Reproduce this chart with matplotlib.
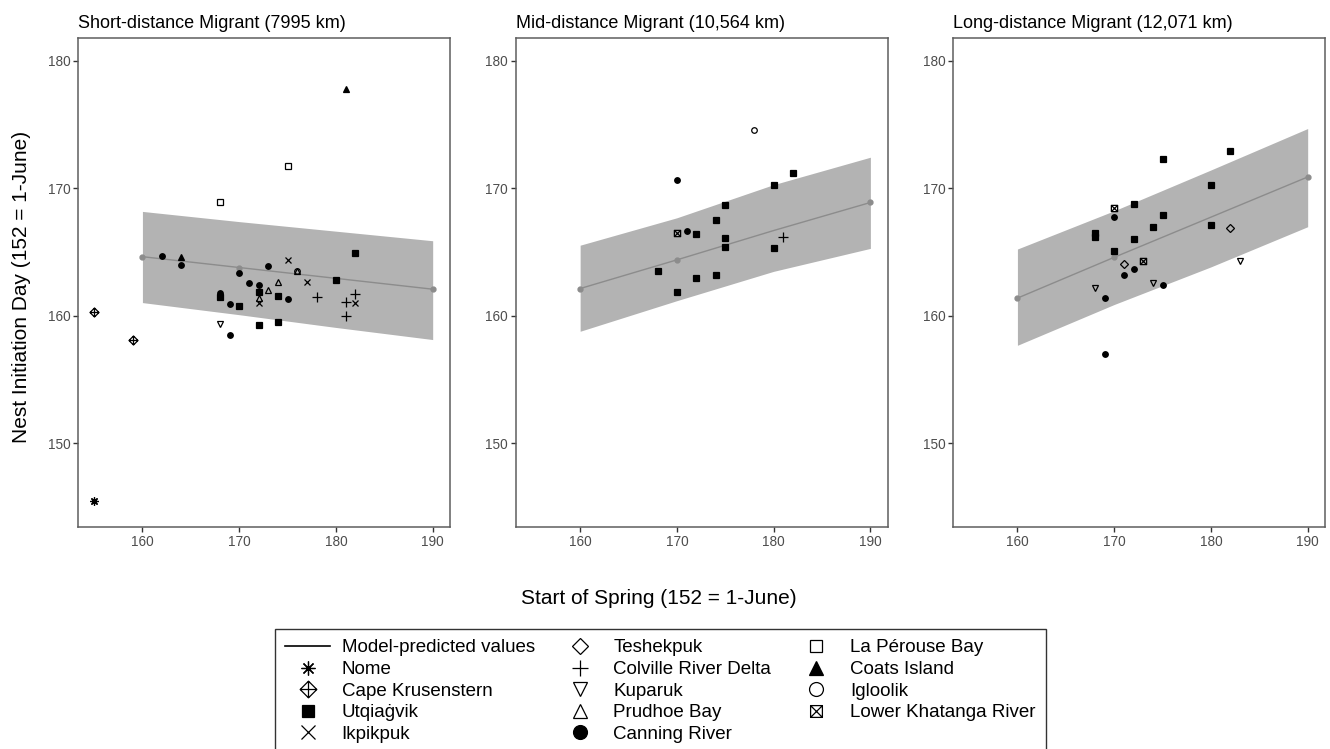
import matplotlib
matplotlib.use("Agg")
import matplotlib.pyplot as plt
from matplotlib.path import Path
from matplotlib.lines import Line2D

plt.rcParams["font.family"] = ["Liberation Sans", "DejaVu Sans"]

# ---- data ----
pred_x = [160, 170, 180, 190]

short_fit = [164.65, 163.8, 162.95, 162.1]
short_lo = [161.05, 160.1, 159.1, 158.15]
short_hi = [168.2, 167.4, 166.65, 165.9]

mid_fit = [162.15, 164.4, 166.7, 168.9]
mid_lo = [158.8, 161.2, 163.5, 165.3]
mid_hi = [165.55, 167.7, 170.3, 172.45]

long_fit = [161.4, 164.6, 167.75, 170.9]
long_lo = [157.7, 160.9, 163.85, 167.0]
long_hi = [165.25, 168.25, 171.45, 174.7]

short_site = ["Nome", "Cape Krusenstern", "Cape Krusenstern",
              "Canning River", "Canning River", "Canning River", "Canning River",
              "Canning River", "Canning River", "Canning River", "Canning River",
              "Canning River", "Canning River",
              "Utqiaġvik", "Utqiaġvik", "Utqiaġvik", "Utqiaġvik",
              "Utqiaġvik", "Utqiaġvik", "Utqiaġvik", "Utqiaġvik",
              "Coats Island", "Coats Island", "La Pérouse Bay", "La Pérouse Bay",
              "Prudhoe Bay", "Prudhoe Bay", "Prudhoe Bay", "Prudhoe Bay",
              "Ikpikpuk", "Ikpikpuk", "Ikpikpuk", "Ikpikpuk",
              "Colville River Delta", "Colville River Delta",
              "Colville River Delta", "Colville River Delta",
              "Kuparuk", "Igloolik"]
short_spring = [155, 155, 159,
                162, 164, 170, 171, 172, 173, 175, 169, 168, 169,
                168, 170, 172, 174, 174, 172, 180, 182,
                164, 181, 175, 168,
                174, 173, 172, 176,
                175, 177, 172, 182,
                178, 181, 181, 182,
                168, 176]
short_nest = [145.5, 160.3, 158.1,
              164.7, 164.0, 163.4, 162.6, 162.4, 163.9, 161.3, 160.9, 161.8, 158.5,
              161.5, 160.8, 159.3, 159.5, 161.6, 161.9, 162.8, 164.9,
              164.6, 177.8, 171.8, 168.9,
              162.7, 162.0, 161.4, 163.5,
              164.4, 162.7, 161.0, 161.0,
              161.5, 161.1, 160.0, 161.7,
              159.4, 163.5]

mid_site = ["Igloolik", "Canning River", "Canning River", "Lower Khatanga River",
            "Utqiaġvik", "Utqiaġvik", "Utqiaġvik", "Utqiaġvik", "Utqiaġvik",
            "Utqiaġvik", "Utqiaġvik", "Utqiaġvik", "Utqiaġvik", "Utqiaġvik",
            "Utqiaġvik", "Utqiaġvik", "Colville River Delta"]
mid_spring = [178, 170, 171, 170,
              172, 174, 175, 175, 175, 180, 182, 180, 168, 172, 174, 170, 181]
mid_nest = [174.6, 170.7, 166.7, 166.5,
            166.4, 167.5, 168.7, 166.1, 165.4, 170.3, 171.2, 165.3, 163.5,
            163.0, 163.2, 161.9, 166.2]

long_site = ["Utqiaġvik", "Utqiaġvik", "Utqiaġvik", "Utqiaġvik", "Utqiaġvik",
             "Utqiaġvik", "Utqiaġvik", "Utqiaġvik", "Utqiaġvik", "Utqiaġvik",
             "Utqiaġvik", "Lower Khatanga River", "Lower Khatanga River",
             "Canning River", "Canning River", "Canning River", "Canning River",
             "Canning River", "Canning River", "Teshekpuk", "Teshekpuk",
             "Kuparuk", "Kuparuk", "Kuparuk"]
long_spring = [175, 182, 180, 172, 175, 174, 180, 168, 168, 172, 170,
               170, 173, 170, 172, 171, 175, 169, 169, 182, 171, 168, 174, 183]
long_nest = [172.3, 172.9, 170.3, 168.8, 167.9, 167.0, 167.1, 166.5, 166.2,
             166.0, 165.1, 168.5, 164.3, 167.8, 163.7, 163.2, 162.4, 161.4,
             157.0, 166.9, 164.1, 162.2, 162.6, 164.3]

titles = ["Short-distance Migrant (7995 km)",
          "Mid-distance Migrant (10,564 km)",
          "Long-distance Migrant (12,071 km)"]

site_order = ["Nome", "Cape Krusenstern", "Utqiaġvik", "Ikpikpuk", "Teshekpuk",
              "Colville River Delta", "Kuparuk", "Prudhoe Bay", "Canning River",
              "La Pérouse Bay", "Coats Island", "Igloolik", "Lower Khatanga River"]

# ---- marker shapes (ggplot-like) ----
diamond_plus = Path(
    [(0, 1), (1, 0), (0, -1), (-1, 0), (0, 1), (0, 1), (0, -1), (-1, 0), (1, 0)],
    [Path.MOVETO, Path.LINETO, Path.LINETO, Path.LINETO, Path.CLOSEPOLY,
     Path.MOVETO, Path.LINETO, Path.MOVETO, Path.LINETO])
square_cross = Path(
    [(-1, -1), (1, -1), (1, 1), (-1, 1), (-1, -1), (-1, -1), (1, 1), (-1, 1), (1, -1)],
    [Path.MOVETO, Path.LINETO, Path.LINETO, Path.LINETO, Path.CLOSEPOLY,
     Path.MOVETO, Path.LINETO, Path.MOVETO, Path.LINETO])

# marker, filled, size in panel, size in legend
styles = {
    "Nome": ((8, 2, 0), False, 6, 10),
    "Cape Krusenstern": (diamond_plus, False, 6.5, 12),
    "Utqiaġvik": ("s", True, 3.8, 9),
    "Ikpikpuk": ("x", False, 5, 10),
    "Teshekpuk": ("D", False, 4.5, 8.5),
    "Colville River Delta": ("+", False, 6.5, 12),
    "Kuparuk": ("v", False, 5, 10),
    "Prudhoe Bay": ("^", False, 5, 10),
    "Canning River": ("o", True, 4, 10),
    "La Pérouse Bay": ("s", False, 4, 9),
    "Coats Island": ("^", True, 4.5, 10),
    "Igloolik": ("o", False, 4, 10),
    "Lower Khatanga River": (square_cross, False, 4.5, 8.5),
}

W, H = 1330, 749
fig = plt.figure(figsize=(W / 100, H / 100), dpi=100)

panels = [
    (short_site, short_spring, short_nest, short_fit, short_lo, short_hi),
    (mid_site, mid_spring, mid_nest, mid_fit, mid_lo, mid_hi),
    (long_site, long_spring, long_nest, long_fit, long_lo, long_hi),
]
lefts = [78, 515.7, 953]

for left, title, (sites, xs, ys, fit, lo, hi) in zip(lefts, titles, panels):
    ax = fig.add_axes([left / W, 1 - 527 / H, 372 / W, 489 / H])
    ax.fill_between(pred_x, lo, hi, color="#b3b3b3", lw=0, zorder=1)
    ax.plot(pred_x, fit, color="#8c8c8c", lw=1, marker="o", ms=3.5,
            markevery=[0, 1, 3], zorder=2)
    for s in site_order:
        px = [x for x, n in zip(xs, sites) if n == s]
        py = [y for y, n in zip(ys, sites) if n == s]
        if not px:
            continue
        mk, filled, ms, _ = styles[s]
        ax.plot(px, py, ls="none", marker=mk, ms=ms,
                mfc="black" if filled else "none", mec="black", mew=0.9, zorder=3)
    ax.set_xlim(153.34, 191.79)
    ax.set_ylim(143.45, 181.8)
    ax.set_xticks([160, 170, 180, 190])
    ax.set_yticks([150, 160, 170, 180])
    ax.tick_params(length=3.5, width=1, color="#333333", labelsize=9.8,
                   labelcolor="#4d4d4d", pad=2)
    for sp in ax.spines.values():
        sp.set_color("#5e5e5e")
        sp.set_linewidth(1.1)
    ax.set_title(title, loc="left", fontsize=13, pad=7)

fig.text(22 / W, 1 - 287 / H, "Nest Initiation Day (152 = 1-June)",
         rotation=90, ha="center", va="center", fontsize=15)
fig.text(0.495, 1 - 598 / H, "Start of Spring (152 = 1-June)",
         ha="center", va="center", fontsize=15)

handles = [Line2D([], [], color="black", lw=1.2)]
labels = ["Model-predicted values"]
for s in site_order:
    mk, filled, _, lms = styles[s]
    handles.append(Line2D([], [], ls="none", marker=mk, ms=lms,
                          mfc="black" if filled else "none", mec="black", mew=0.9))
    labels.append(s)

leg = fig.legend(handles, labels, loc="upper left",
                 bbox_to_anchor=(275 / W, 1 - 629 / H), ncol=3, fontsize=13.5,
                 frameon=True, fancybox=False, edgecolor="black",
                 borderaxespad=0, borderpad=0.55, labelspacing=0.24,
                 handlelength=2.4, handletextpad=0.6, columnspacing=1.2)
leg.get_frame().set_linewidth(1.0)

fig.savefig("out.png", dpi=100)
